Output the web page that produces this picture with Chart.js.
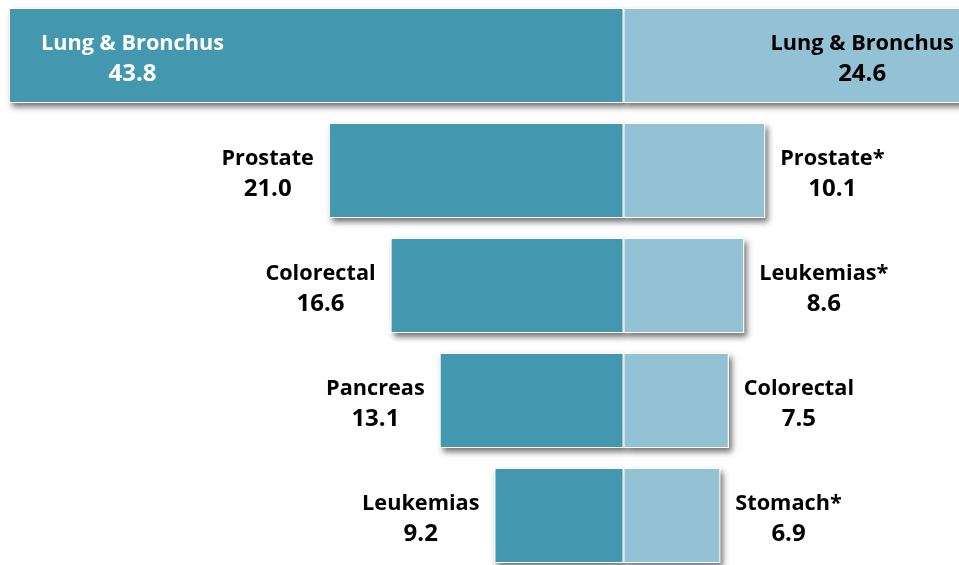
<!DOCTYPE html>
<html><head><meta charset="utf-8">
<script src="https://cdn.jsdelivr.net/npm/chart.js@4/dist/chart.umd.min.js"></script>
<style>
html,body{margin:0;padding:0;background:#fff;overflow:hidden;width:959px;height:565px;}
#wrap{position:absolute;left:0;top:-2px;width:959px;height:575px;}
</style></head>
<body>
<div id="wrap"><canvas id="c"></canvas></div>
<script>
const leftNames = ["Lung & Bronchus", "Prostate", "Colorectal", "Pancreas", "Leukemias"];
const leftValues = [43.8, 21.0, 16.6, 13.1, 9.2];
const rightNames = ["Lung & Bronchus", "Prostate*", "Leukemias*", "Colorectal", "Stomach*"];
const rightValues = [24.6, 10.1, 8.6, 7.5, 6.9];
const rows = ["1", "2", "3", "4", "5"];

const DARK = "rgb(67,152,175)";
const LIGHT = "rgb(147,194,212)";
const NAME_FONT = "bold 21.7px 'Open Sans', sans-serif";
const VALUE_FONT = "bold 24px 'Open Sans', sans-serif";

const shadowPlugin = {
  id: "shadow",
  beforeDatasetsDraw(chart) {
    const ctx = chart.ctx;
    ctx.save();
    ctx.shadowColor = "rgba(0,0,0,0.55)";
    ctx.shadowBlur = 6;
    ctx.shadowOffsetX = 3;
    ctx.shadowOffsetY = 4;
    ctx.fillStyle = "#ffffff";
    chart.data.datasets.forEach((ds, di) => {
      chart.getDatasetMeta(di).data.forEach(el => {
        const p = el.getProps(["x", "y", "base", "height"], true);
        const l = Math.min(p.x, p.base), r = Math.max(p.x, p.base);
        ctx.fillRect(l, p.y - p.height / 2, r - l, p.height);
      });
    });
    ctx.restore();
  }
};

const labelPlugin = {
  id: "labels",
  afterDatasetsDraw(chart) {
    const ctx = chart.ctx;
    const area = chart.chartArea;
    ctx.save();
    ctx.textAlign = "center";
    ctx.textBaseline = "alphabetic";
    const sets = [
      {names: leftNames, values: leftValues, side: -1},
      {names: rightNames, values: rightValues, side: 1}
    ];
    sets.forEach((s, di) => {
      chart.getDatasetMeta(di).data.forEach((el, i) => {
        const p = el.getProps(["x", "y", "base", "height"], true);
        const l1 = s.names[i], l2 = s.values[i].toFixed(1);
        ctx.font = NAME_FONT;
        const w1 = ctx.measureText(l1).width;
        ctx.font = VALUE_FONT;
        const w2 = ctx.measureText(l2).width;
        const w = Math.max(w1, w2);
        let cx, inside;
        if (s.side < 0) {
          inside = (p.x - area.left) < w + 15;
          cx = inside ? p.x + 32 + w / 2 : p.x - 15 - w / 2;
        } else {
          inside = (area.right - p.x) < w + 15;
          cx = inside ? p.x - 15 - w / 2 : p.x + 15 + w / 2;
        }
        ctx.fillStyle = (inside && s.side < 0) ? "#ffffff" : "#000000";
        ctx.font = NAME_FONT;
        ctx.fillText(l1, cx, p.y - 5.5);
        ctx.font = VALUE_FONT;
        ctx.fillText(l2, cx, p.y + 25.5);
      });
    });
    ctx.restore();
  }
};

new Chart(document.getElementById("c"), {
  type: "bar",
  data: {
    labels: rows,
    datasets: [
      {data: leftValues.map(v => -v), backgroundColor: DARK, borderColor: "#ffffff", borderWidth: 1, borderSkipped: false},
      {data: rightValues, backgroundColor: LIGHT, borderColor: "#ffffff", borderWidth: 1, borderSkipped: false}
    ]
  },
  options: {
    indexAxis: "y",
    responsive: true,
    maintainAspectRatio: false,
    animation: false,
    layout: {padding: 0},
    datasets: {bar: {barPercentage: 95 / 115, categoryPercentage: 1}},
    scales: {
      x: {display: false, stacked: true, min: -44.44, max: 23.91},
      y: {display: false, stacked: true}
    },
    plugins: {legend: {display: false}, tooltip: {enabled: false}}
  },
  plugins: [shadowPlugin, labelPlugin]
});
</script>
</body></html>
